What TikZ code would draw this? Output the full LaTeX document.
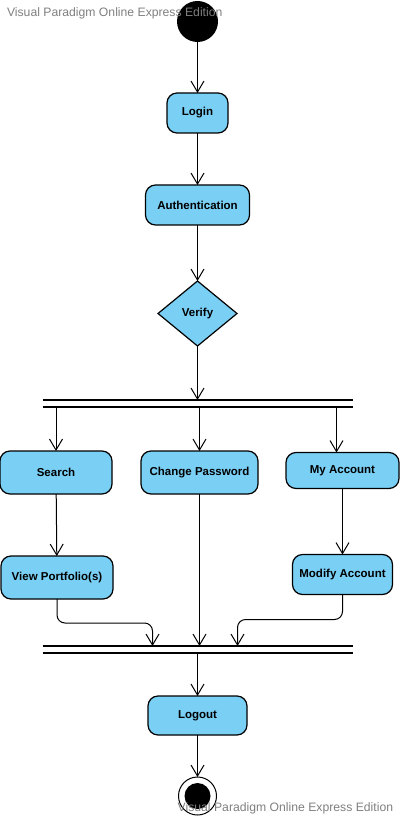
\documentclass[tikz,border=0pt]{standalone}
\usepackage{fontspec}
\setmainfont{Liberation Sans}
\usetikzlibrary{positioning,arrows.meta,shapes.geometric}
\definecolor{actblue}{HTML}{79CFF4}
\definecolor{wmgray}{HTML}{7F7F7F}

\begin{document}
\begin{tikzpicture}[
            x=1pt, y=-1pt,
            font=\fontsize{11.5}{13}\selectfont\bfseries,
            every node/.style={outer sep=0pt},
            action/.style={rectangle, rounded corners=10pt, draw, line width=1.2pt, fill=actblue, minimum height=40pt, align=center, inner sep=0pt},
            decision/.style={diamond, draw, line width=1.2pt, fill=actblue, minimum width=79pt, minimum height=65pt, inner sep=0pt},
            bar/.style={rectangle, minimum width=310pt, minimum height=7pt, inner sep=0pt},
            barline/.style={line width=2.5pt},
            arrow/.style={-{Straight Barb[length=11pt,width=13pt]}, line width=1pt},
            watermark/.style={text=wmgray, font=\fontsize{12.2}{14}\selectfont, inner sep=0pt, anchor=base west}
        ]
        \useasboundingbox (0,0) rectangle (402,818);

        \node[circle, fill=black, minimum size=41pt, inner sep=0pt] (start) at (197.5,21.5) {};
        \node[action, minimum width=61pt, below=51pt of start] (login) {Login};
        \node[action, minimum width=104pt, below=52pt of login] (auth) {Authentication};
        \node[decision, below=56pt of auth] (verify) {Verify};
        \node[bar, below=54pt of verify] (fork) {};
        \node[action, minimum width=117pt, minimum height=43pt, below=44pt of fork, xshift=2pt] (chpw) {Change Password};
        \node[action, minimum width=112pt, minimum height=43pt, left=29pt of chpw] (search) {Search};
        \node[action, minimum width=113pt, minimum height=36pt, right=28pt of chpw, yshift=2pt] (myacct) {My Account};
        \node[action, minimum width=112pt, minimum height=43pt, below=62pt of search, xshift=1pt] (viewpf) {View Portfolio(s)};
        \node[action, minimum width=100pt, minimum height=40pt, below=66pt of myacct] (modacct) {Modify Account};
        \node[bar, below=239pt of fork] (join) {};
        \node[action, minimum width=99pt, minimum height=39pt, below=43pt of join] (logout) {Logout};
        \node[circle, draw, line width=1pt, minimum size=38pt, inner sep=0pt, below=42pt of logout] (finish) {};
        \node[circle, fill=black, minimum size=26pt, inner sep=0pt] (finishdot) at (finish) {};

        % fork and join bars
        \draw[barline] (fork.north west) -- (fork.north east);
        \draw[barline] (fork.south west) -- (fork.south east);
        \draw[barline] (join.north west) -- (join.north east);
        \draw[barline] (join.south west) -- (join.south east);

        \coordinate (myin) at ([xshift=-6pt]myacct.north);
        \coordinate (joinL) at ([xshift=-45pt]join.north);
        \coordinate (joinR) at ([xshift=40pt]join.north);

        \draw[arrow] (start) -- (login);
        \draw[arrow] (login) -- (auth);
        \draw[arrow] (auth) -- (verify);
        \draw[arrow] (verify) -- (fork.north);
        \draw[arrow] (search.north |- fork.south) -- (search.north);
        \draw[arrow] (chpw.north |- fork.south) -- (chpw.north);
        \draw[arrow] (myin |- fork.south) -- (myin);
        \draw[arrow] (search) -- (viewpf);
        \draw[arrow] (myacct) -- (modacct);
        \draw[arrow, rounded corners=8pt] (viewpf.south) -- ++(0,24) -| (joinL);
        \draw[arrow] (chpw) -- (chpw |- join.north);
        \draw[arrow, rounded corners=8pt] (modacct.south) -- ++(0,25) -| (joinR);
        \draw[arrow] (join.south) -- (logout);
        \draw[arrow] (logout) -- (finish);

        \node[watermark] (wmtop) at (7,16.5) {Visual Paradigm Online Express Edition};
        \node[watermark] (wmbot) at (177.7,811.5) {Visual Paradigm Online Express Edition};
\end{tikzpicture}
\end{document}
